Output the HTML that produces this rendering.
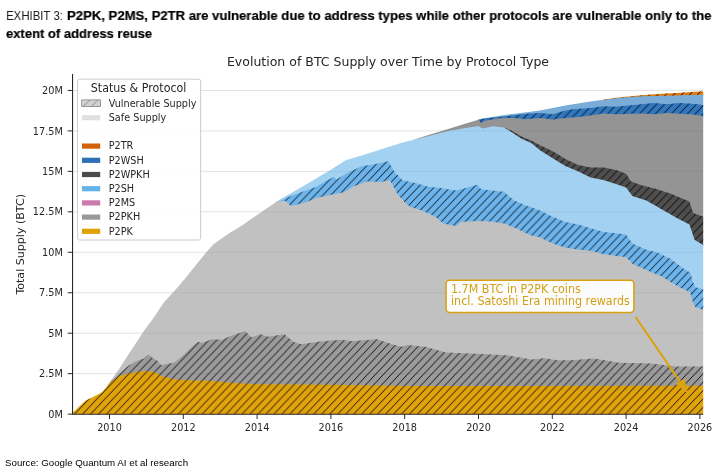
<!DOCTYPE html>
<html><head><meta charset="utf-8"><title>Exhibit 3</title>
<style>
html,body{margin:0;padding:0;background:#fff;}
body>*{will-change:transform;}
body{width:720px;height:474px;position:relative;overflow:hidden;font-family:"Liberation Sans",sans-serif;}
.hd{position:absolute;font-size:13.6px;line-height:17.3px;color:#000;white-space:nowrap;transform-origin:0 0;}
.ex{left:5.6px;top:7px;font-weight:400;color:#1a1a1a;transform:scaleX(0.840);}
.b1{left:66.7px;top:7px;font-weight:700;-webkit-text-stroke:0.2px #000;transform:scaleX(0.965);}
.b2{left:6.2px;top:24.6px;font-weight:700;-webkit-text-stroke:0.2px #000;transform:scaleX(0.9575);}
.src{position:absolute;left:4.8px;top:457px;font-size:9.72px;color:#000;white-space:nowrap;}
svg text{font-family:"DejaVu Sans","Liberation Sans",sans-serif;fill:#262626;}
.t{font-size:9.7px;}
.ti{font-size:12.52px;}
.yl{font-size:10.6px;}
.lt{font-size:11.09px;}
.l{font-size:9.7px;}
.an{font-size:11.13px;fill:#D2A014;}
</style></head><body>
<div class="hd ex">EXHIBIT 3:</div><div class="hd b1">P2PK, P2MS, P2TR are vulnerable due to address types while other protocols are vulnerable only to the</div><div class="hd b2">extent of address reuse</div>
<svg width="720" height="474" viewBox="0 0 720 474" style="position:absolute;left:0;top:0">
<defs><pattern id="h" patternUnits="userSpaceOnUse" width="7.9750" height="8.3785" x="6.200" y="0">
<path d="M-1.000,9.429 L8.975,-1.051 M-1.000,1.051 L1.000,-1.051 M6.975,9.429 L8.975,7.328" stroke="#000" stroke-width="0.88" fill="none"/>
</pattern><pattern id="hl" patternUnits="userSpaceOnUse" width="8.08" height="8.08" x="3.9" y="0"><path d="M-1,9.08 L9.08,-1 M-1,1 L1,-1 M7.08,9.08 L9.08,7.08" stroke="#666" stroke-width="0.7" fill="none"/>
</pattern><clipPath id="ax"><rect x="72.6" y="74" width="630.8" height="340.2"/></clipPath></defs>
<line x1="72.6" x2="703.2" y1="414.13" y2="414.13" stroke="#eeeeee" stroke-width="1"/>
<line x1="72.6" x2="703.2" y1="373.67" y2="373.67" stroke="#eeeeee" stroke-width="1"/>
<line x1="72.6" x2="703.2" y1="333.21" y2="333.21" stroke="#eeeeee" stroke-width="1"/>
<line x1="72.6" x2="703.2" y1="292.75" y2="292.75" stroke="#eeeeee" stroke-width="1"/>
<line x1="72.6" x2="703.2" y1="252.29" y2="252.29" stroke="#eeeeee" stroke-width="1"/>
<line x1="72.6" x2="703.2" y1="211.84" y2="211.84" stroke="#eeeeee" stroke-width="1"/>
<line x1="72.6" x2="703.2" y1="171.38" y2="171.38" stroke="#eeeeee" stroke-width="1"/>
<line x1="72.6" x2="703.2" y1="130.92" y2="130.92" stroke="#eeeeee" stroke-width="1"/>
<line x1="72.6" x2="703.2" y1="90.46" y2="90.46" stroke="#eeeeee" stroke-width="1"/>
<g clip-path="url(#ax)">
<path d="M596.0,100.8L616.0,97.8L641.3,95.3L655.0,94.3L666.6,93.5L680.0,92.7L703.5,91.2L703.5,95.7L680.0,96.3L666.6,96.7L655.0,96.9L641.3,97.3L616.0,99.2L596.0,100.8Z" fill="#DE7A10"/>
<path d="M596.0,100.8L616.0,97.8L641.3,95.3L655.0,94.3L666.6,93.5L680.0,92.7L703.5,91.2L703.5,95.7L680.0,96.3L666.6,96.7L655.0,96.9L641.3,97.3L616.0,99.2L596.0,100.8Z" fill="url(#h)"/>
<path d="M478.0,119.8L481.0,118.7L486.0,117.9L501.3,115.4L526.6,112.2L540.0,110.5L552.7,107.9L565.3,105.4L573.0,104.2L590.6,101.6L596.0,100.8L603.3,99.9L616.0,98.2L641.3,96.3L654.0,96.0L655.0,95.9L666.6,95.7L679.2,95.4L680.0,95.3L692.0,95.0L703.5,94.7L703.5,106.0L692.0,104.7L680.0,104.0L679.2,104.0L666.6,105.2L655.0,104.1L654.0,104.0L641.3,105.2L616.0,107.7L603.3,107.2L596.0,108.2L590.6,109.0L573.0,110.2L565.3,111.5L552.7,115.3L540.0,114.0L526.6,114.7L501.3,117.7L486.0,119.2L481.0,120.2L478.0,119.8Z" fill="#79ADD8"/>
<path d="M478.0,119.8L481.0,119.2L486.0,118.2L501.3,116.7L514.0,115.2L526.6,113.7L540.0,113.0L552.7,114.3L565.3,110.5L573.0,109.2L580.0,108.7L590.6,108.0L603.3,106.2L616.0,106.7L641.3,104.2L654.0,103.0L666.6,104.2L679.2,103.0L692.0,103.7L703.5,105.0L703.5,117.0L692.0,115.3L679.2,114.6L666.6,114.0L654.0,115.3L641.3,114.5L616.0,115.3L603.3,114.5L590.6,116.6L580.0,117.7L573.0,118.3L565.3,119.0L552.7,120.4L540.0,119.0L526.6,120.2L514.0,119.0L501.3,119.0L486.0,121.5L481.0,124.0L478.0,119.8Z" fill="#3077BD"/>
<path d="M478.0,119.8L481.0,119.2L486.0,118.2L501.3,116.7L514.0,115.2L526.6,113.7L540.0,113.0L552.7,114.3L565.3,110.5L573.0,109.2L580.0,108.7L590.6,108.0L603.3,106.2L616.0,106.7L641.3,104.2L654.0,103.0L666.6,104.2L679.2,103.0L692.0,103.7L703.5,105.0L703.5,117.0L692.0,115.3L679.2,114.6L666.6,114.0L654.0,115.3L641.3,114.5L616.0,115.3L603.3,114.5L590.6,116.6L580.0,117.7L573.0,118.3L565.3,119.0L552.7,120.4L540.0,119.0L526.6,120.2L514.0,119.0L501.3,119.0L486.0,121.5L481.0,124.0L478.0,119.8Z" fill="url(#h)"/>
<path d="M412.0,140.2L425.3,136.1L450.6,128.3L465.8,123.6L476.0,120.5L478.0,119.8L478.5,120.3L481.0,123.0L482.3,122.3L486.0,120.5L493.7,119.2L501.3,118.0L503.8,118.0L511.4,118.0L514.0,118.0L521.5,118.7L526.6,119.2L531.6,118.8L540.0,118.0L552.7,119.4L565.3,118.0L578.0,116.9L580.0,116.7L590.6,115.6L603.3,113.5L616.0,114.3L626.0,114.0L631.0,113.8L641.3,113.5L654.0,114.3L656.5,114.0L666.6,113.0L671.6,113.3L689.4,114.2L692.0,114.3L693.2,114.5L703.5,116.0L703.5,217.8L693.2,214.0L692.0,210.4L689.4,202.6L671.6,195.0L666.6,193.3L656.5,190.0L654.0,189.4L641.3,186.2L631.0,182.4L626.0,174.8L616.0,171.0L603.3,168.5L590.6,168.5L580.0,166.4L578.0,166.0L565.3,160.0L552.7,152.3L540.0,146.2L531.6,141.8L526.6,139.7L521.5,137.5L514.0,133.0L511.4,131.5L503.8,128.6L501.3,128.3L493.7,127.3L486.0,128.9L482.3,129.6L481.0,128.7L478.5,127.0L478.0,127.1L476.0,127.4L465.8,129.1L450.6,131.6L425.3,138.0L412.0,140.2Z" fill="#949494"/>
<path d="M503.8,127.6L511.4,130.5L521.5,136.5L531.6,140.8L540.0,145.2L552.7,151.3L565.3,159.0L578.0,165.0L590.6,167.5L603.3,167.5L616.0,170.0L626.0,173.8L631.0,181.4L632.4,181.9L641.3,185.2L646.3,186.4L656.5,189.0L661.5,190.7L671.6,194.0L676.7,196.2L689.4,201.6L693.2,213.0L694.4,213.4L703.5,216.8L703.5,246.2L694.4,240.6L693.2,237.0L689.4,225.4L676.7,219.0L671.6,216.0L661.5,210.2L656.5,207.3L646.3,201.4L641.3,199.8L632.4,197.0L631.0,195.1L626.0,188.5L616.0,185.0L603.3,181.0L590.6,178.4L578.0,172.3L565.3,167.0L552.7,159.2L540.0,151.3L531.6,144.3L521.5,139.7L511.4,132.9L503.8,127.6Z" fill="#4E4E4E"/>
<path d="M503.8,127.6L511.4,130.5L521.5,136.5L531.6,140.8L540.0,145.2L552.7,151.3L565.3,159.0L578.0,165.0L590.6,167.5L603.3,167.5L616.0,170.0L626.0,173.8L631.0,181.4L632.4,181.9L641.3,185.2L646.3,186.4L656.5,189.0L661.5,190.7L671.6,194.0L676.7,196.2L689.4,201.6L693.2,213.0L694.4,213.4L703.5,216.8L703.5,246.2L694.4,240.6L693.2,237.0L689.4,225.4L676.7,219.0L671.6,216.0L661.5,210.2L656.5,207.3L646.3,201.4L641.3,199.8L632.4,197.0L631.0,195.1L626.0,188.5L616.0,185.0L603.3,181.0L590.6,178.4L578.0,172.3L565.3,167.0L552.7,159.2L540.0,151.3L531.6,144.3L521.5,139.7L511.4,132.9L503.8,127.6Z" fill="url(#h)"/>
<path d="M273.0,204.2L280.6,199.0L290.8,193.2L306.0,184.6L316.0,178.6L326.2,172.5L331.3,169.4L333.8,167.8L336.3,166.2L345.2,160.5L349.0,159.3L361.6,155.4L374.3,151.5L381.9,149.1L388.2,147.1L390.0,146.5L395.0,144.9L399.6,143.4L400.0,143.3L402.7,142.6L410.0,140.8L412.0,140.2L415.3,139.4L425.3,137.0L428.0,136.3L440.6,133.1L450.6,130.6L455.8,129.7L465.8,128.1L466.0,128.1L477.3,126.2L478.5,126.0L481.0,127.7L482.3,128.6L491.3,126.8L493.7,126.3L503.8,127.6L504.0,127.7L511.4,131.9L514.0,133.7L521.5,138.7L526.7,141.1L531.6,143.3L540.0,150.3L552.7,158.2L565.3,166.0L578.0,171.3L590.6,177.4L603.3,180.0L616.0,184.0L626.0,187.5L632.4,196.0L646.3,200.4L656.5,206.3L661.5,209.2L670.0,214.1L675.5,217.3L676.7,218.0L683.7,221.5L689.4,224.4L690.5,227.7L692.6,234.1L694.4,239.6L695.3,240.2L703.5,245.2L703.5,290.3L695.3,288.2L694.4,286.1L692.6,282.0L690.5,273.8L689.4,273.1L683.7,269.7L676.7,264.4L675.5,263.5L670.0,259.4L661.5,255.6L656.5,253.3L646.3,250.7L632.4,244.4L626.0,235.6L616.0,234.3L603.3,233.0L590.6,229.2L578.0,225.4L565.3,223.0L552.7,217.8L540.0,211.5L531.6,208.5L526.7,206.7L521.5,204.6L514.0,201.6L511.4,199.3L504.0,192.8L503.8,192.8L493.7,191.7L491.3,191.5L482.3,190.4L481.0,190.2L478.5,187.2L477.3,185.7L466.0,189.0L465.8,189.0L455.8,191.5L450.6,190.6L440.6,189.0L428.0,187.7L425.3,186.9L415.3,184.0L412.0,183.3L410.0,182.9L402.7,181.4L400.0,178.4L399.6,178.0L395.0,173.8L390.0,165.0L388.2,162.3L381.9,163.7L374.3,165.3L361.6,167.3L349.0,173.0L345.2,175.2L336.3,180.5L333.8,178.0L331.3,179.2L326.2,181.8L316.0,188.0L306.0,191.4L290.8,197.0L280.6,201.7L273.0,204.2Z" fill="#A3D1F1"/>
<path d="M277.0,202.3L285.7,198.3L290.8,196.0L306.0,190.4L316.0,187.0L326.2,180.8L331.3,178.2L333.8,177.0L336.3,179.5L344.0,175.0L349.0,172.0L354.0,169.7L361.6,166.3L366.7,165.5L374.3,164.3L381.9,162.7L388.2,161.3L390.0,164.0L395.0,172.8L397.6,175.2L399.6,177.0L402.7,180.4L404.7,180.8L410.3,182.0L415.3,183.0L423.0,185.2L428.0,186.7L435.6,187.5L440.6,188.0L443.2,188.4L455.8,190.5L461.0,189.2L466.0,188.0L476.0,185.1L477.3,184.7L481.0,189.2L491.3,190.5L504.0,191.8L514.0,200.6L516.6,201.6L526.7,205.7L529.2,206.6L540.0,210.5L552.7,216.8L565.3,222.0L578.0,224.4L590.6,228.2L603.3,232.0L616.0,233.3L626.0,234.6L632.4,243.4L646.3,249.7L656.5,252.3L661.5,254.6L670.0,258.4L675.5,262.5L676.8,263.5L683.7,268.7L689.9,272.4L690.5,272.8L692.6,281.0L695.3,287.2L703.5,289.3L703.5,310.9L695.3,308.0L692.6,302.6L690.5,295.1L689.9,293.0L683.7,290.2L676.8,286.8L675.5,286.0L670.0,282.7L661.5,277.3L656.5,275.2L646.3,271.0L632.4,264.7L626.0,258.0L616.0,257.0L603.3,255.0L590.6,251.8L578.0,250.6L565.3,248.5L552.7,244.5L540.0,238.3L529.2,235.8L526.7,234.6L516.6,229.5L514.0,228.4L504.0,224.4L491.3,222.4L481.0,222.1L477.3,222.0L476.0,222.0L466.0,222.7L461.0,223.0L455.8,227.0L443.2,224.4L440.6,222.2L435.6,218.0L428.0,214.3L423.0,211.8L415.3,209.5L410.3,208.0L404.7,203.3L402.7,201.0L399.6,197.6L397.6,195.3L395.0,190.5L390.0,181.4L388.2,181.3L381.9,183.0L374.3,182.8L366.7,182.5L361.6,184.4L354.0,187.3L349.0,190.2L344.0,193.2L336.3,194.7L333.8,195.2L331.3,195.7L326.2,196.8L316.0,199.0L306.0,203.3L290.8,207.0L285.7,202.0L277.0,202.3Z" fill="#6CB4EB"/>
<path d="M277.0,202.3L285.7,198.3L290.8,196.0L306.0,190.4L316.0,187.0L326.2,180.8L331.3,178.2L333.8,177.0L336.3,179.5L344.0,175.0L349.0,172.0L354.0,169.7L361.6,166.3L366.7,165.5L374.3,164.3L381.9,162.7L388.2,161.3L390.0,164.0L395.0,172.8L397.6,175.2L399.6,177.0L402.7,180.4L404.7,180.8L410.3,182.0L415.3,183.0L423.0,185.2L428.0,186.7L435.6,187.5L440.6,188.0L443.2,188.4L455.8,190.5L461.0,189.2L466.0,188.0L476.0,185.1L477.3,184.7L481.0,189.2L491.3,190.5L504.0,191.8L514.0,200.6L516.6,201.6L526.7,205.7L529.2,206.6L540.0,210.5L552.7,216.8L565.3,222.0L578.0,224.4L590.6,228.2L603.3,232.0L616.0,233.3L626.0,234.6L632.4,243.4L646.3,249.7L656.5,252.3L661.5,254.6L670.0,258.4L675.5,262.5L676.8,263.5L683.7,268.7L689.9,272.4L690.5,272.8L692.6,281.0L695.3,287.2L703.5,289.3L703.5,310.9L695.3,308.0L692.6,302.6L690.5,295.1L689.9,293.0L683.7,290.2L676.8,286.8L675.5,286.0L670.0,282.7L661.5,277.3L656.5,275.2L646.3,271.0L632.4,264.7L626.0,258.0L616.0,257.0L603.3,255.0L590.6,251.8L578.0,250.6L565.3,248.5L552.7,244.5L540.0,238.3L529.2,235.8L526.7,234.6L516.6,229.5L514.0,228.4L504.0,224.4L491.3,222.4L481.0,222.1L477.3,222.0L476.0,222.0L466.0,222.7L461.0,223.0L455.8,227.0L443.2,224.4L440.6,222.2L435.6,218.0L428.0,214.3L423.0,211.8L415.3,209.5L410.3,208.0L404.7,203.3L402.7,201.0L399.6,197.6L397.6,195.3L395.0,190.5L390.0,181.4L388.2,181.3L381.9,183.0L374.3,182.8L366.7,182.5L361.6,184.4L354.0,187.3L349.0,190.2L344.0,193.2L336.3,194.7L333.8,195.2L331.3,195.7L326.2,196.8L316.0,199.0L306.0,203.3L290.8,207.0L285.7,202.0L277.0,202.3Z" fill="url(#h)"/>
<path d="M106.0,388.0L110.6,381.0L119.5,368.4L128.4,354.4L136.0,343.0L143.5,331.6L148.6,324.6L152.4,319.5L153.7,317.7L157.5,312.0L161.3,306.3L163.8,302.5L166.3,299.7L173.9,291.4L178.5,286.3L181.5,282.7L188.0,275.0L189.1,273.6L198.0,262.6L201.8,257.8L206.9,251.5L211.9,246.1L213.8,244.0L222.0,238.3L230.0,232.7L232.0,231.5L240.0,226.8L245.2,223.2L251.5,218.8L255.3,216.2L260.4,212.7L268.0,207.6L277.0,201.4L284.4,201.1L285.7,201.0L290.8,206.0L293.3,205.4L300.9,203.5L306.0,202.3L316.0,198.0L318.6,197.4L331.3,194.7L341.4,192.7L344.0,192.2L351.5,187.8L354.0,186.3L366.7,181.5L376.8,181.8L381.9,182.0L388.2,180.3L390.0,180.4L392.0,184.1L397.6,194.3L402.0,199.3L404.7,202.3L407.6,204.7L410.3,207.0L423.0,210.8L425.3,211.9L435.6,217.0L443.2,223.4L445.6,223.9L455.8,226.0L461.0,222.0L476.0,221.0L491.3,221.4L504.0,223.4L506.3,224.3L516.6,228.5L529.2,234.8L531.6,235.4L540.0,237.3L544.3,239.4L552.7,243.5L557.0,244.9L565.3,247.5L571.6,248.5L578.0,249.6L590.6,250.8L593.8,251.6L603.3,254.0L616.0,256.0L619.0,256.3L626.0,257.0L632.4,263.7L646.3,270.0L650.8,271.9L661.5,276.3L670.0,281.7L676.0,285.3L676.8,285.8L683.7,289.2L689.9,292.0L692.6,301.6L695.3,307.0L703.5,309.9L703.5,367.5L695.3,367.5L692.6,367.5L689.9,367.5L683.7,367.5L676.8,367.5L676.0,367.5L670.0,366.8L661.5,365.7L650.8,364.4L646.3,364.3L632.4,364.0L626.0,363.9L619.0,363.7L616.0,363.2L603.3,361.1L593.8,359.6L590.6,359.8L578.0,360.7L571.6,361.2L565.3,361.2L557.0,361.3L552.7,360.6L544.3,359.2L540.0,359.6L531.6,360.5L529.2,360.1L516.6,358.0L506.3,356.2L504.0,356.1L491.3,355.5L476.0,354.7L461.0,354.1L455.8,353.8L445.6,353.4L443.2,352.7L435.6,350.6L425.3,347.8L423.0,347.6L410.3,346.3L407.6,346.0L404.7,346.9L402.0,347.8L397.6,346.7L392.0,345.3L390.0,344.6L388.2,344.0L381.9,341.9L376.8,340.2L366.7,341.0L354.0,342.1L351.5,342.3L344.0,341.1L341.4,340.7L331.3,341.6L318.6,342.8L316.0,343.2L306.0,344.6L300.9,345.3L293.3,342.8L290.8,340.7L285.7,336.3L284.4,335.2L277.0,336.3L268.0,337.7L260.4,335.2L255.3,337.1L251.5,338.5L245.2,331.9L240.0,333.9L232.0,336.4L230.0,337.3L222.0,340.7L213.8,340.3L211.9,340.2L206.9,342.1L201.8,344.0L198.0,342.8L189.1,350.4L188.0,351.5L181.5,358.0L178.5,360.3L173.9,363.8L166.3,365.0L163.8,365.6L161.3,366.3L157.5,361.8L153.7,359.5L152.4,358.7L148.6,355.4L143.5,359.7L136.0,362.3L128.4,366.8L119.5,374.4L110.6,382.5L106.0,388.0Z" fill="#C1C1C1"/>
<path d="M106.0,388.0L110.6,381.5L119.5,373.4L128.4,365.8L136.0,361.3L141.0,359.6L143.5,358.7L148.6,354.4L152.4,357.7L156.2,360.0L157.5,360.8L161.3,365.3L166.3,364.0L173.9,362.8L181.5,357.0L186.6,351.9L189.1,349.4L198.0,341.8L201.8,343.0L211.9,339.2L222.0,339.7L230.0,336.3L232.0,335.4L240.0,332.9L245.2,330.9L251.5,337.5L255.3,336.1L260.4,334.2L268.0,336.7L284.4,334.2L293.3,341.8L300.9,344.3L318.6,341.8L331.3,340.6L341.4,339.7L351.5,341.3L376.8,339.2L392.0,344.3L402.0,346.8L407.6,345.0L410.0,345.2L425.3,346.8L445.6,352.4L476.0,353.7L506.3,355.2L531.6,359.5L544.3,358.2L557.0,360.3L571.6,360.2L593.8,358.6L619.0,362.7L650.8,363.4L676.0,366.5L703.5,366.5L703.5,386.7L676.0,386.7L650.8,386.8L619.0,386.8L593.8,386.8L571.6,386.8L557.0,386.8L544.3,386.9L531.6,386.9L506.3,386.9L476.0,386.9L445.6,387.0L425.3,387.0L410.0,387.0L407.6,387.0L402.0,386.9L392.0,386.7L376.8,386.5L351.5,386.1L341.4,386.0L331.3,385.8L318.6,385.7L300.9,385.6L293.3,385.6L284.4,385.5L268.0,385.4L260.4,385.3L255.3,385.3L251.5,385.1L245.2,384.7L240.0,384.4L232.0,383.9L230.0,383.8L222.0,383.0L211.9,382.0L201.8,381.7L198.0,381.6L189.1,381.4L186.6,381.3L181.5,380.9L173.9,380.2L166.3,378.3L161.3,377.0L157.5,374.5L156.2,373.7L152.4,372.8L148.6,371.9L143.5,372.2L141.0,372.4L136.0,373.2L128.4,374.4L119.5,377.0L110.6,383.3L106.0,388.0Z" fill="#9B9B9B"/>
<path d="M106.0,388.0L110.6,381.5L119.5,373.4L128.4,365.8L136.0,361.3L141.0,359.6L143.5,358.7L148.6,354.4L152.4,357.7L156.2,360.0L157.5,360.8L161.3,365.3L166.3,364.0L173.9,362.8L181.5,357.0L186.6,351.9L189.1,349.4L198.0,341.8L201.8,343.0L211.9,339.2L222.0,339.7L230.0,336.3L232.0,335.4L240.0,332.9L245.2,330.9L251.5,337.5L255.3,336.1L260.4,334.2L268.0,336.7L284.4,334.2L293.3,341.8L300.9,344.3L318.6,341.8L331.3,340.6L341.4,339.7L351.5,341.3L376.8,339.2L392.0,344.3L402.0,346.8L407.6,345.0L410.0,345.2L425.3,346.8L445.6,352.4L476.0,353.7L506.3,355.2L531.6,359.5L544.3,358.2L557.0,360.3L571.6,360.2L593.8,358.6L619.0,362.7L650.8,363.4L676.0,366.5L703.5,366.5L703.5,386.7L676.0,386.7L650.8,386.8L619.0,386.8L593.8,386.8L571.6,386.8L557.0,386.8L544.3,386.9L531.6,386.9L506.3,386.9L476.0,386.9L445.6,387.0L425.3,387.0L410.0,387.0L407.6,387.0L402.0,386.9L392.0,386.7L376.8,386.5L351.5,386.1L341.4,386.0L331.3,385.8L318.6,385.7L300.9,385.6L293.3,385.6L284.4,385.5L268.0,385.4L260.4,385.3L255.3,385.3L251.5,385.1L245.2,384.7L240.0,384.4L232.0,383.9L230.0,383.8L222.0,383.0L211.9,382.0L201.8,381.7L198.0,381.6L189.1,381.4L186.6,381.3L181.5,380.9L173.9,380.2L166.3,378.3L161.3,377.0L157.5,374.5L156.2,373.7L152.4,372.8L148.6,371.9L143.5,372.2L141.0,372.4L136.0,373.2L128.4,374.4L119.5,377.0L110.6,383.3L106.0,388.0Z" fill="url(#h)"/>
<path d="M72.6,412.7L85.3,400.8L92.9,397.0L101.8,392.4L110.6,382.3L119.5,376.0L128.4,373.4L141.0,371.4L148.6,370.9L156.2,372.7L161.3,376.0L173.9,379.2L186.6,380.3L211.9,381.0L230.0,382.8L255.3,384.3L331.3,384.8L410.0,386.0L703.5,385.7L703.5,414.2L410.0,414.2L331.3,414.2L255.3,414.2L230.0,414.2L211.9,414.2L186.6,414.2L173.9,414.2L161.3,414.2L156.2,414.2L148.6,414.2L141.0,414.2L128.4,414.2L119.5,414.2L110.6,414.2L101.8,414.2L92.9,414.2L85.3,414.2L72.6,414.2Z" fill="#E1A30A"/>
<path d="M72.6,412.7L85.3,400.8L92.9,397.0L101.8,392.4L110.6,382.3L119.5,376.0L128.4,373.4L141.0,371.4L148.6,370.9L156.2,372.7L161.3,376.0L173.9,379.2L186.6,380.3L211.9,381.0L230.0,382.8L255.3,384.3L331.3,384.8L410.0,386.0L703.5,385.7L703.5,414.2L410.0,414.2L331.3,414.2L255.3,414.2L230.0,414.2L211.9,414.2L186.6,414.2L173.9,414.2L161.3,414.2L156.2,414.2L148.6,414.2L141.0,414.2L128.4,414.2L119.5,414.2L110.6,414.2L101.8,414.2L92.9,414.2L85.3,414.2L72.6,414.2Z" fill="url(#h)"/>
<line x1="72.6" x2="703.2" y1="373.67" y2="373.67" stroke="#000" stroke-opacity="0.05" stroke-width="1"/>
<line x1="72.6" x2="703.2" y1="333.21" y2="333.21" stroke="#000" stroke-opacity="0.05" stroke-width="1"/>
<line x1="72.6" x2="703.2" y1="292.75" y2="292.75" stroke="#000" stroke-opacity="0.05" stroke-width="1"/>
<line x1="72.6" x2="703.2" y1="252.29" y2="252.29" stroke="#000" stroke-opacity="0.05" stroke-width="1"/>
<line x1="72.6" x2="703.2" y1="211.84" y2="211.84" stroke="#000" stroke-opacity="0.05" stroke-width="1"/>
<line x1="72.6" x2="703.2" y1="171.38" y2="171.38" stroke="#000" stroke-opacity="0.05" stroke-width="1"/>
<line x1="72.6" x2="703.2" y1="130.92" y2="130.92" stroke="#000" stroke-opacity="0.05" stroke-width="1"/>
<line x1="72.6" x2="703.2" y1="90.46" y2="90.46" stroke="#000" stroke-opacity="0.05" stroke-width="1"/>
</g>
<path d="M72.55,74 V414.2 H703.2" fill="none" stroke="#2a2a2a" stroke-width="1.1"/>
<line x1="67.7" x2="72.6" y1="414.13" y2="414.13" stroke="#2a2a2a" stroke-width="1"/>
<text transform="translate(62.8,417.73) scale(1,1.045)" text-anchor="end" class="t">0M</text>
<line x1="67.7" x2="72.6" y1="373.67" y2="373.67" stroke="#2a2a2a" stroke-width="1"/>
<text transform="translate(62.8,377.27) scale(1,1.045)" text-anchor="end" class="t">2.5M</text>
<line x1="67.7" x2="72.6" y1="333.21" y2="333.21" stroke="#2a2a2a" stroke-width="1"/>
<text transform="translate(62.8,336.81) scale(1,1.045)" text-anchor="end" class="t">5M</text>
<line x1="67.7" x2="72.6" y1="292.75" y2="292.75" stroke="#2a2a2a" stroke-width="1"/>
<text transform="translate(62.8,296.35) scale(1,1.045)" text-anchor="end" class="t">7.5M</text>
<line x1="67.7" x2="72.6" y1="252.29" y2="252.29" stroke="#2a2a2a" stroke-width="1"/>
<text transform="translate(62.8,255.89) scale(1,1.045)" text-anchor="end" class="t">10M</text>
<line x1="67.7" x2="72.6" y1="211.84" y2="211.84" stroke="#2a2a2a" stroke-width="1"/>
<text transform="translate(62.8,215.44) scale(1,1.045)" text-anchor="end" class="t">12.5M</text>
<line x1="67.7" x2="72.6" y1="171.38" y2="171.38" stroke="#2a2a2a" stroke-width="1"/>
<text transform="translate(62.8,174.98) scale(1,1.045)" text-anchor="end" class="t">15M</text>
<line x1="67.7" x2="72.6" y1="130.92" y2="130.92" stroke="#2a2a2a" stroke-width="1"/>
<text transform="translate(62.8,134.52) scale(1,1.045)" text-anchor="end" class="t">17.5M</text>
<line x1="67.7" x2="72.6" y1="90.46" y2="90.46" stroke="#2a2a2a" stroke-width="1"/>
<text transform="translate(62.8,94.06) scale(1,1.045)" text-anchor="end" class="t">20M</text>
<line x1="109.50" x2="109.50" y1="414" y2="419" stroke="#2a2a2a" stroke-width="1"/>
<text transform="translate(109.50,431.0) scale(1,1.045)" text-anchor="middle" class="t">2010</text>
<line x1="183.30" x2="183.30" y1="414" y2="419" stroke="#2a2a2a" stroke-width="1"/>
<text transform="translate(183.30,431.0) scale(1,1.045)" text-anchor="middle" class="t">2012</text>
<line x1="257.10" x2="257.10" y1="414" y2="419" stroke="#2a2a2a" stroke-width="1"/>
<text transform="translate(257.10,431.0) scale(1,1.045)" text-anchor="middle" class="t">2014</text>
<line x1="330.90" x2="330.90" y1="414" y2="419" stroke="#2a2a2a" stroke-width="1"/>
<text transform="translate(330.90,431.0) scale(1,1.045)" text-anchor="middle" class="t">2016</text>
<line x1="404.70" x2="404.70" y1="414" y2="419" stroke="#2a2a2a" stroke-width="1"/>
<text transform="translate(404.70,431.0) scale(1,1.045)" text-anchor="middle" class="t">2018</text>
<line x1="478.50" x2="478.50" y1="414" y2="419" stroke="#2a2a2a" stroke-width="1"/>
<text transform="translate(478.50,431.0) scale(1,1.045)" text-anchor="middle" class="t">2020</text>
<line x1="552.30" x2="552.30" y1="414" y2="419" stroke="#2a2a2a" stroke-width="1"/>
<text transform="translate(552.30,431.0) scale(1,1.045)" text-anchor="middle" class="t">2022</text>
<line x1="626.10" x2="626.10" y1="414" y2="419" stroke="#2a2a2a" stroke-width="1"/>
<text transform="translate(626.10,431.0) scale(1,1.045)" text-anchor="middle" class="t">2024</text>
<line x1="699.90" x2="699.90" y1="414" y2="419" stroke="#2a2a2a" stroke-width="1"/>
<text transform="translate(699.90,431.0) scale(1,1.045)" text-anchor="middle" class="t">2026</text>
<text transform="translate(388,66) scale(1,1.045)" text-anchor="middle" class="ti">Evolution of BTC Supply over Time by Protocol Type</text>
<text transform="translate(24.3,244.3) rotate(-90) scale(1.045,1)" text-anchor="middle" class="yl">Total Supply (BTC)</text>
<rect x="77.6" y="79.2" width="123" height="160.8" rx="2" fill="#fff" fill-opacity="0.9" stroke="#ccc" stroke-width="1"/>
<text transform="translate(138.6,91.6) scale(1,1.045)" text-anchor="middle" class="lt">Status &amp; Protocol</text>
<rect x="81.7" y="99.9" width="18.8" height="6.6" fill="#d2d2d2"/><rect x="81.7" y="99.9" width="18.8" height="6.6" fill="url(#hl)" stroke="#777" stroke-width="0.7"/>
<text transform="translate(108.7,106.8) scale(1,1.045)" class="l">Vulnerable Supply</text>
<rect x="82" y="115.1" width="18.2" height="5.2" fill="#e0e0e0"/>
<text transform="translate(108.7,121.0) scale(1,1.045)" class="l">Safe Supply</text>
<rect x="82" y="143.5" width="18.2" height="5.2" fill="#D26108"/>
<text transform="translate(108.7,149.4) scale(1,1.045)" class="l">P2TR</text>
<rect x="82" y="157.7" width="18.2" height="5.2" fill="#2C70B7"/>
<text transform="translate(108.7,163.6) scale(1,1.045)" class="l">P2WSH</text>
<rect x="82" y="171.9" width="18.2" height="5.2" fill="#4B4B4B"/>
<text transform="translate(108.7,177.8) scale(1,1.045)" class="l">P2WPKH</text>
<rect x="82" y="186.1" width="18.2" height="5.2" fill="#63B2EA"/>
<text transform="translate(108.7,192.0) scale(1,1.045)" class="l">P2SH</text>
<rect x="82" y="200.3" width="18.2" height="5.2" fill="#CC7BAD"/>
<text transform="translate(108.7,206.2) scale(1,1.045)" class="l">P2MS</text>
<rect x="82" y="214.5" width="18.2" height="5.2" fill="#999999"/>
<text transform="translate(108.7,220.4) scale(1,1.045)" class="l">P2PKH</text>
<rect x="82" y="228.7" width="18.2" height="5.2" fill="#E0A106"/>
<text transform="translate(108.7,234.6) scale(1,1.045)" class="l">P2PK</text>
<path d="M635.6,317 L686.4,391.2" stroke="#DAA410" stroke-width="2.1" fill="none"/>
<path d="M676.9,383.9 L686.9,391.9 L683.9,380 Z" stroke="#DAA410" stroke-width="1.6" stroke-linejoin="miter" fill="#DAA410"/>
<rect x="446.1" y="280.2" width="187.8" height="32.2" rx="3.6" fill="#fff" fill-opacity="0.94" stroke="#D6A212" stroke-width="1.5"/>
<text transform="translate(451,292.8) scale(1,1.045)" class="an">1.7M BTC in P2PK coins</text>
<text transform="translate(451,305.4) scale(1,1.045)" class="an">incl. Satoshi Era mining rewards</text>
</svg>
<div class="src">Source: Google Quantum AI et al research</div>
</body></html>
